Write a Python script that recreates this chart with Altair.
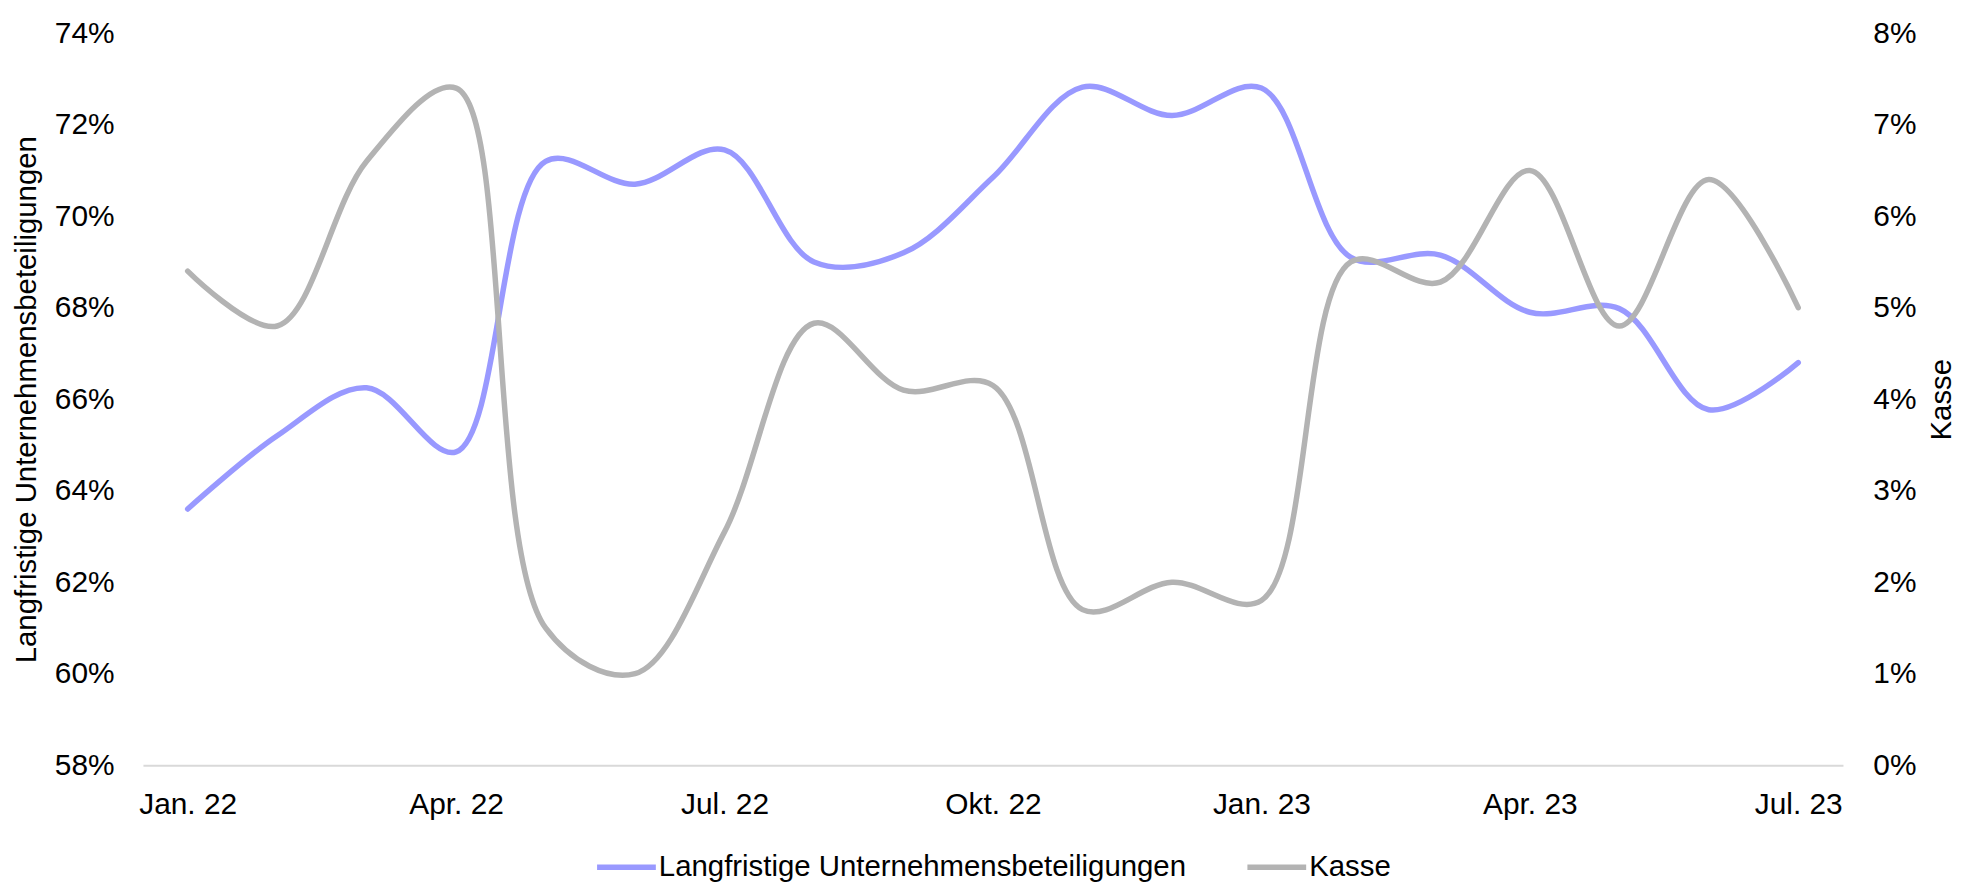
import altair as alt
import pandas as pd

months = ["Jan. 22", "Feb. 22", "Mär. 22", "Apr. 22", "Mai. 22", "Jun. 22", "Jul. 22",
          "Aug. 22", "Sep. 22", "Okt. 22", "Nov. 22", "Dez. 22", "Jan. 23", "Feb. 23",
          "Mär. 23", "Apr. 23", "Mai. 23", "Jun. 23", "Jul. 23"]
tick_months = ["Jan. 22", "Apr. 22", "Jul. 22", "Okt. 22", "Jan. 23", "Apr. 23", "Jul. 23"]

# values in percent
lang_pct = [63.6, 65.2, 66.25, 64.85, 71.2, 70.7, 71.45, 69.0, 69.2, 70.85, 72.82, 72.2,
            72.8, 69.1, 69.15, 67.9, 67.98, 65.77, 66.8]
kasse_pct = [5.4, 4.8, 6.6, 7.4, 1.5, 1.0, 2.55, 4.83, 4.1, 4.15, 1.7, 2.0,
             1.8, 5.5, 5.28, 6.5, 4.8, 6.4, 5.0]

left_ticks = [58, 60, 62, 64, 66, 68, 70, 72, 74]
right_ticks = [0, 1, 2, 3, 4, 5, 6, 7, 8]

series_names = ["Langfristige Unternehmensbeteiligungen", "Kasse"]
series_colors = ["#9999ff", "#b3b3b3"]

df = pd.DataFrame({
    "Monat": months,
    "Lang": [v / 100 for v in lang_pct],
    "Kasse": [v / 100 for v in kasse_pct],
})

FONT = "Liberation Sans"
FS_AX = 30
FS = 29.5
TXT = "#000000"
CURVE = "catmull-rom"

PLOT_W, PLOT_H = 1707, 735
TOTAL_W, TOTAL_H = 1958, 876
PAD_L, PAD_T = 135.5, 23.5

x_enc = alt.X(
    "Monat:O", sort=months,
    scale=alt.Scale(type="point", padding=0.5),
    axis=alt.Axis(values=tick_months, labelAngle=0, title=None, ticks=False, tickSize=0,
                  domain=True, domainColor="#d9d9d9", domainWidth=2, labelPadding=25,
                  grid=False, labelFontSize=FS_AX, labelFont=FONT, labelColor=TXT),
)

color_scale = alt.Scale(domain=series_names, range=series_colors)
legend = alt.Legend(title=None, orient="none", legendX=453, legendY=805,
                    direction="horizontal", symbolType="stroke", symbolSize=3481,
                    symbolStrokeWidth=5.5, labelFontSize=FS, labelFont=FONT,
                    labelColor=TXT, labelLimit=0, labelOffset=0, columnPadding=50)

line_l = alt.Chart(df).transform_calculate(
    Reihe=f"'{series_names[0]}'"
).mark_line(interpolate=CURVE, strokeWidth=5.5, strokeCap="round").encode(
    x=x_enc,
    y=alt.Y("Lang:Q",
            scale=alt.Scale(domain=[0.58, 0.74], nice=False, zero=False),
            axis=alt.Axis(values=[v / 100 for v in left_ticks], format=".0%", orient="left",
                          title=series_names[0], grid=False, domain=False, ticks=False,
                          tickSize=0, labelPadding=29, titlePadding=13,
                          labelFontSize=FS_AX, labelFont=FONT, labelColor=TXT,
                          titleFontSize=FS, titleFont=FONT, titleColor=TXT,
                          titleFontWeight="normal")),
    color=alt.Color("Reihe:N", scale=color_scale, legend=legend),
)

line_r = alt.Chart(df).transform_calculate(
    Reihe=f"'{series_names[1]}'"
).mark_line(interpolate=CURVE, strokeWidth=5.5, strokeCap="round").encode(
    x=x_enc,
    y=alt.Y("Kasse:Q",
            scale=alt.Scale(domain=[0, 0.08], nice=False, zero=False),
            axis=alt.Axis(values=[v / 100 for v in right_ticks], format=".0%", orient="right",
                          title=series_names[1], grid=False, domain=False, ticks=False,
                          tickSize=0, labelPadding=30, titlePadding=12,
                          titleAngle=270, titleBaseline="top",
                          labelFontSize=FS_AX, labelFont=FONT, labelColor=TXT,
                          titleFontSize=FS, titleFont=FONT, titleColor=TXT,
                          titleFontWeight="normal")),
    color=alt.Color("Reihe:N", scale=color_scale, legend=legend),
)

chart = alt.layer(line_l, line_r).resolve_scale(y="independent").properties(
    width=PLOT_W, height=PLOT_H,
    autosize=alt.AutoSizeParams(type="none"),
    padding={"left": PAD_L, "top": PAD_T,
             "right": TOTAL_W - PAD_L - PLOT_W, "bottom": TOTAL_H - PAD_T - PLOT_H},
    background="white",
).configure_view(stroke=None)

chart.save("out.html", embed_options={"renderer": "svg", "actions": False})
